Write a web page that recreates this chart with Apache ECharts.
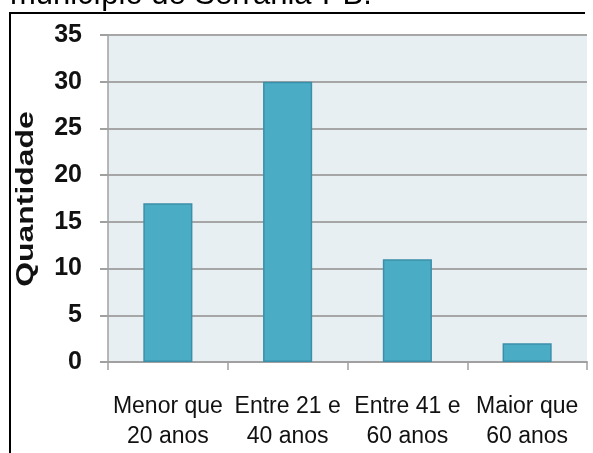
<!DOCTYPE html>
<html>
<head>
<meta charset="utf-8">
<script src="https://cdn.jsdelivr.net/npm/echarts@6/dist/echarts.min.js"></script>
<style>
  html, body { margin: 0; padding: 0; background: #fff; }
  #chart { width: 593px; height: 453px; }
</style>
</head>
<body>
<div id="chart"></div>
<script>
// faixas etárias e quantidades
const categories = ['Menor que\n20 anos', 'Entre 21 e\n40 anos', 'Entre 41 e\n60 anos', 'Maior que\n60 anos'];
const values = [17, 30, 11, 2];
const yTicks = { min: 0, max: 35, interval: 5 };
const yTitle = 'Quantidade';
const caption = 'município de Serrânia-PB.';

const chart = echarts.init(document.getElementById('chart'));
const option = {
  animation: false,
  backgroundColor: '#fff',
  grid: {
    left: 108,
    right: 6,
    top: 35,
    bottom: 91,
    show: true,
    backgroundColor: '#e7eff3',
    borderWidth: 0,
  },
  graphic: [
    // texto cortado no topo
    {
      type: 'text',
      left: 10,
      top: -20,
      style: {
        text: caption,
        font: '31px "Liberation Sans", Arial, sans-serif',
        fill: '#000',
      },
    },
    // moldura
    {
      type: 'line',
      shape: { x1: 9, y1: 13, x2: 585, y2: 13 },
      style: { stroke: '#000', lineWidth: 2 },
    },
    {
      type: 'line',
      shape: { x1: 10, y1: 12, x2: 10, y2: 453 },
      style: { stroke: '#000', lineWidth: 2 },
    },
    // título do eixo y
    {
      type: 'text',
      x: 26,
      y: 199,
      rotation: Math.PI / 2,
      scaleX: 1.33,
      style: {
        text: yTitle,
        font: 'bold 24px "Liberation Sans", Arial, sans-serif',
        fill: '#111',
        align: 'center',
        verticalAlign: 'middle',
      },
    },
  ],
  xAxis: {
    type: 'category',
    data: categories,
    axisLine: { show: true, lineStyle: { color: '#a0a0a0', width: 2 } },
    axisTick: { show: true, length: 8, alignWithLabel: false, lineStyle: { color: '#a0a0a0', width: 1.5 } },
    axisLabel: {
      interval: 0,
      margin: 30,
      fontSize: 23,
      lineHeight: 30,
      color: '#111',
      fontFamily: '"Liberation Sans", Arial, sans-serif',
    },
  },
  yAxis: {
    type: 'value',
    min: yTicks.min,
    max: yTicks.max,
    interval: yTicks.interval,
    axisLine: { show: true, lineStyle: { color: '#a0a0a0', width: 1.5 } },
    axisTick: { show: true, length: 8, lineStyle: { color: '#a0a0a0', width: 2 } },
    splitLine: { show: true, lineStyle: { color: '#a6a6a6', width: 2 } },
    axisLabel: {
      margin: 26,
      fontSize: 25,
      fontWeight: 'bold',
      color: '#111',
      fontFamily: '"Liberation Sans", Arial, sans-serif',
    },
  },
  series: [
    {
      type: 'bar',
      data: values,
      barWidth: '41%',
      itemStyle: {
        color: '#4bacc6',
        borderColor: '#3b8fa8',
        borderWidth: 1.5,
      },
    },
  ],
};
chart.setOption(option);
</script>
</body>
</html>
